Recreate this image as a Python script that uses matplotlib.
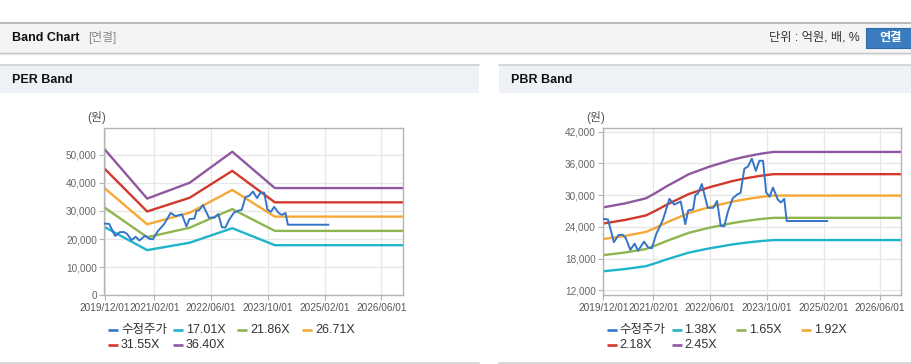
import numpy as np
import matplotlib.pyplot as plt
from matplotlib.lines import Line2D
from matplotlib.patches import Rectangle
from matplotlib.ticker import FuncFormatter

plt.rcParams['font.family'] = ['Liberation Sans', 'Noto Sans CJK KR', 'DejaVu Sans']

# 수정주가 (both panels use the same price)
price_dates = ['2019-12-01', '2020-01-10', '2020-03-01', '2020-04-10', '2020-05-15', '2020-06-10',
               '2020-07-20', '2020-08-25', '2020-09-25', '2020-11-15', '2020-12-20', '2021-01-20',
               '2021-02-28', '2021-04-25', '2021-06-20', '2021-08-01', '2021-09-25', '2021-11-03',
               '2021-11-28', '2022-01-10', '2022-01-28', '2022-02-20', '2022-03-25', '2022-05-15',
               '2022-07-01', '2022-08-03', '2022-09-03', '2022-10-03', '2022-11-03', '2022-12-15',
               '2023-01-28', '2023-02-20', '2023-03-25', '2023-04-25', '2023-05-28', '2023-07-01',
               '2023-08-01', '2023-09-01', '2023-09-28', '2023-10-28', '2023-11-25', '2024-01-05',
               '2024-02-01', '2024-03-01', '2024-03-22', '2025-03-04']
price = [25500, 25400, 21100, 22450, 22500, 21900,
         19650, 20800, 19500, 21200, 20100, 19950,
         22700, 25300, 29300, 28200, 28800, 24500,
         27100, 27300, 30000, 30300, 32100, 27600,
         27600, 28900, 24200, 24100, 26800, 29400,
         30200, 30400, 35000, 35400, 36900, 34600,
         36500, 36500, 30500, 29700, 31450, 29200,
         28600, 29300, 25100, 25100]

# PER band: EPS per date, times the band multiple
per_dates = ['2019-12-01', '2020-12-01', '2021-12-01', '2022-12-01', '2023-12-01', '2026-12-01']
eps = [1428, 945, 1100, 1403, 1048, 1048]
per_mults = [17.01, 21.86, 26.71, 31.55, 36.40]

# PBR band: BPS per quarter, times the band multiple
pbr_dates = ['2019-12-01', '2020-03-01', '2020-06-01', '2020-09-01', '2020-12-01', '2021-03-01',
             '2021-06-01', '2021-09-01', '2021-12-01', '2022-03-01', '2022-06-01', '2022-09-01',
             '2022-12-01', '2023-03-01', '2023-06-01', '2023-09-01', '2023-12-01', '2026-12-01']
bps = [11300, 11450, 11600, 11800, 12000, 12450,
       12950, 13400, 13850, 14150, 14450, 14700,
       14950, 15150, 15320, 15470, 15580, 15580]
pbr_mults = [1.38, 1.65, 1.92, 2.18, 2.45]

tick_dates = ['2019-12-01', '2021-02-01', '2022-06-01', '2023-10-01', '2025-02-01', '2026-06-01']
price_color = '#3575c9'
band_colors = ['#1fb4c9', '#8fb550', '#f5a934', '#d2382c', '#8f579f']

W, H = 912, 364
fig = plt.figure(figsize=(W / 100, H / 100), dpi=100)

def fx(x):
    return x / W

def fy(y):
    return 1 - y / H

def rect(x0, y0, x1, y1, color):
    fig.add_artist(Rectangle((fx(x0), fy(y1)), (x1 - x0) / W, (y1 - y0) / H,
                             transform=fig.transFigure, facecolor=color, edgecolor='none', zorder=-5))

def hline(y, x0, x1, color, lw=1.0):
    fig.add_artist(Line2D([fx(x0), fx(x1)], [fy(y), fy(y)], transform=fig.transFigure,
                          color=color, lw=lw, zorder=-4))

# top header
rect(0, 22, 912, 53, '#f4f4f4')
hline(22.5, 0, 912, '#b0b0b0', 1.2)
hline(53, 0, 912, '#c2c2c2', 1.0)
hline(54.2, 0, 912, '#e6e6e6', 1.0)
fig.text(fx(12), fy(38), 'Band Chart', weight='bold', fontsize=9, va='center', color='#111')
fig.text(fx(88), fy(38), '[연결]', fontsize=8.5, va='center', color='#888888')
fig.text(fx(860), fy(38), '단위 : 억원, 배, %', ha='right', fontsize=8.8, va='center', color='#333333')
fig.add_artist(Rectangle((fx(866), fy(47.5)), 50 / W, 19.5 / H, transform=fig.transFigure,
                         facecolor='#3b7cc0', edgecolor='#2f6aa8', lw=0.8, zorder=-3))
fig.text(fx(891), fy(38), '연결', ha='center', va='center', fontsize=8.8, weight='bold', color='white')

# panels
for x0, x1, title in [(0, 479, 'PER Band'), (499, 912, 'PBR Band')]:
    rect(x0, 64, x1, 93, '#eef2f7')
    hline(64.5, x0, x1, '#d2d2d2', 1.2)
    hline(362.5, x0, x1, '#d2d2d2', 1.2)
    fig.text(fx(x0 + 12), fy(80), title, weight='bold', fontsize=9, va='center', color='#111')


def draw_panel(left_px, ylim, yticks, dates, base, mults, fmt_mult):
    ax = fig.add_axes([fx(left_px), fy(295.3), 298.1 / W, 167.0 / H])
    ax.plot(np.array(price_dates, dtype='datetime64[D]'), price, color=price_color, lw=1.4, zorder=3)
    d = np.array(dates, dtype='datetime64[D]')
    for m, c in zip(mults, band_colors):
        ax.plot(d, np.array(base) * m, color=c, lw=1.7, zorder=2)
    ax.set_xlim(np.datetime64('2019-12-01'), np.datetime64('2026-12-01'))
    ax.set_ylim(*ylim)
    ax.set_xticks(np.array(tick_dates, dtype='datetime64[D]'))
    ax.set_xticklabels([t.replace('-', '/') for t in tick_dates])
    ax.set_yticks(yticks)
    ax.yaxis.set_major_formatter(FuncFormatter(lambda v, p: f'{v:,.0f}'))
    ax.grid(True, color='#e6e6e6', lw=0.9, zorder=0)
    ax.set_axisbelow(True)
    for s in ax.spines.values():
        s.set_color('#b4b4b4')
        s.set_linewidth(1.0)
    ax.tick_params(axis='both', colors='#b4b4b4', length=3.5, width=0.8, labelsize=7.2)
    ax.tick_params(axis='x', labelcolor='#555555', pad=2)
    ax.tick_params(axis='y', labelcolor='#666666', pad=2)
    fig.text(fx(left_px - 17), fy(118), '(원)', fontsize=8.5, va='center', color='#555555')

    # legend, fixed-width columns
    labels = ['수정주가'] + [fmt_mult(m) for m in mults]
    colors = [price_color] + band_colors
    for i, (lab, c) in enumerate(zip(labels, colors)):
        x = left_px + 3.5 + (i % 4) * 64.7
        y = 330 + (i // 4) * 14.7
        fig.add_artist(Line2D([fx(x), fx(x + 10)], [fy(y), fy(y)], transform=fig.transFigure,
                              color=c, lw=1.9, solid_capstyle='butt'))
        fig.text(fx(x + 13), fy(y), lab, fontsize=9, va='center', color='#333333')
    return ax


draw_panel(104.5, (0, 59400), [0, 10000, 20000, 30000, 40000, 50000],
           per_dates, eps, per_mults, lambda m: f'{m:.2f}X')
draw_panel(603.3, (11050, 42640), [12000, 18000, 24000, 30000, 36000, 42000],
           pbr_dates, bps, pbr_mults, lambda m: f'{m:.2f}X')

fig.savefig('out.png', dpi=100)
